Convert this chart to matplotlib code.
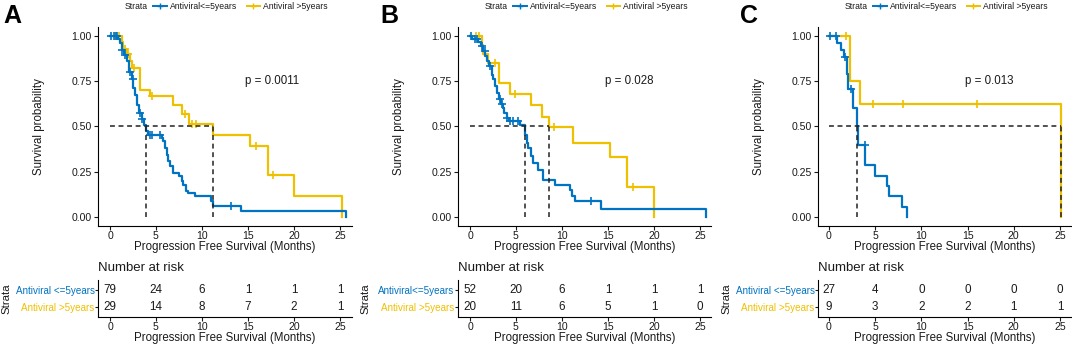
import matplotlib
matplotlib.use('Agg')
import matplotlib.pyplot as plt
from matplotlib.lines import Line2D
import numpy as np

plt.rcParams['font.family'] = ['Liberation Sans', 'DejaVu Sans']

BLUE = '#0073C2'
YELLOW = '#EFC000'
TXT = '#1a1a1a'

# ---------------- data ----------------
panel_labels = ['A', 'B', 'C']
p_values = ['p = 0.0011', 'p = 0.028', 'p = 0.013']
low_names = ['Antiviral <=5years', 'Antiviral<=5years', 'Antiviral <=5years']
high_name = 'Antiviral >5years'
legend_labels = ['Antiviral<=5years', 'Antiviral >5years']
risk_times = [0, 5, 10, 15, 20, 25]
x_ticks = [0, 5, 10, 15, 20, 25]
y_ticks = [0.0, 0.25, 0.5, 0.75, 1.0]

# Panel A
A_low_t = [0, 0.9, 1.1, 1.27, 1.5, 1.8, 2.1, 2.35, 2.54, 2.7, 2.97, 3.19, 3.44, 3.7, 3.91, 4.17,
           5.6, 5.8, 6.0, 6.2, 6.34, 6.5, 6.8, 7.5, 7.8, 7.97, 8.26, 8.5, 9.24, 11.0, 11.23, 14.2, 25.7]
A_low_s = [1.0, 0.985, 0.96, 0.925, 0.897, 0.86, 0.80, 0.76, 0.713, 0.676, 0.62, 0.575, 0.54, 0.51, 0.473, 0.455,
           0.436, 0.418, 0.38, 0.344, 0.307, 0.28, 0.243, 0.225, 0.197, 0.178, 0.145, 0.132, 0.114, 0.086, 0.058, 0.031, 0.0]
A_low_cens = [0.1, 0.4, 0.6, 0.8, 1.3, 1.6, 2.2, 2.45, 3.3, 3.5, 4.3, 4.6, 5.4, 13.2]
A_high_t = [0, 1.27, 1.45, 1.9, 2.17, 2.35, 3.26, 4.35, 6.8, 7.8, 8.6, 11.23, 15.2, 17.2, 20.0, 25.2]
A_high_s = [1.0, 0.965, 0.93, 0.90, 0.862, 0.823, 0.703, 0.667, 0.617, 0.57, 0.515, 0.451, 0.39, 0.234, 0.114, 0.0]
A_high_cens = [0.5, 1.0, 1.6, 2.0, 2.6, 4.6, 8.1, 8.9, 9.3, 15.9, 17.7]
A_risk_low = [79, 24, 6, 1, 1, 1]
A_risk_high = [29, 14, 8, 7, 2, 1]

# Panel B
B_low_t = [0, 0.18, 0.9, 1.16, 1.38, 1.63, 1.85, 2.1, 2.35, 2.54, 2.7, 2.97, 3.19, 3.33, 3.55, 3.7, 3.99, 4.28,
           5.43, 5.97, 6.16, 6.34, 6.6, 6.8, 7.43, 7.97, 9.24, 10.87, 11.05, 11.4, 14.2, 25.6]
B_low_s = [1.0, 0.985, 0.965, 0.943, 0.915, 0.887, 0.86, 0.832, 0.786, 0.76, 0.722, 0.685, 0.654, 0.624, 0.602, 0.574, 0.547, 0.532,
           0.51, 0.455, 0.409, 0.38, 0.335, 0.298, 0.261, 0.206, 0.178, 0.151, 0.114, 0.086, 0.043, 0.0]
B_low_cens = [0.1, 0.5, 0.8, 1.3, 1.6, 2.2, 3.3, 3.5, 4.0, 4.4, 4.7, 5.2, 13.1]
B_high_t = [0, 1.27, 1.45, 2.0, 3.19, 4.35, 6.6, 7.8, 8.6, 11.16, 15.2, 17.1, 20.0]
B_high_s = [1.0, 0.95, 0.90, 0.85, 0.74, 0.68, 0.62, 0.552, 0.495, 0.41, 0.33, 0.164, 0.0]
B_high_cens = [0.6, 1.0, 2.7, 4.9, 9.1, 17.7]
B_risk_low = [52, 20, 6, 1, 1, 1]
B_risk_high = [20, 11, 6, 5, 1, 0]

# Panel C
C_low_t = [0, 0.9, 1.26, 1.6, 2.0, 2.1, 2.6, 3.06, 3.09, 3.12, 3.9, 4.95, 6.24, 6.5, 7.86, 8.48]
C_low_s = [1.0, 0.962, 0.923, 0.885, 0.79, 0.71, 0.60, 0.50, 0.45, 0.40, 0.286, 0.229, 0.171, 0.114, 0.057, 0.0]
C_low_cens = [0.1, 0.8, 1.75, 2.4, 3.85]
C_high_t = [0, 2.27, 3.35, 25.1]
C_high_s = [1.0, 0.75, 0.625, 0.0]
C_high_cens = [1.84, 4.73, 8.05, 15.97]
C_risk_low = [27, 4, 0, 0, 0, 0]
C_risk_high = [9, 3, 2, 2, 1, 1]

panels = [
    (A_low_t, A_low_s, A_low_cens, A_high_t, A_high_s, A_high_cens, A_risk_low, A_risk_high),
    (B_low_t, B_low_s, B_low_cens, B_high_t, B_high_s, B_high_cens, B_risk_low, B_risk_high),
    (C_low_t, C_low_s, C_low_cens, C_high_t, C_high_s, C_high_cens, C_risk_low, C_risk_high),
]

# ---------------- layout (pixels) ----------------
W, H = 1072, 345
fig = plt.figure(figsize=(W / 100, H / 100), dpi=100)

ax_left = [98, 458, 818]
ax_right = [352, 711, 1071]
x_zero = [110, 470, 829]
px_per_month = [9.2, 9.2, 9.24]
label_x = [3, 380, 740]
strata_x = [11, 370, 731]
main_top, main_bot = 27, 226
tab_top, tab_bot = 280, 317


def fr(l, r, t, b):
    return [l / W, 1 - b / H, (r - l) / W, (b - t) / H]


def s_at(ts, ss, x):
    i = np.searchsorted(np.asarray(ts), x, side='right') - 1
    return np.asarray(ss)[i]


def median(ts, ss):
    for t, s in zip(ts, ss):
        if s <= 0.5:
            return t
    return None


tick_fs = 7.6
lab_fs = 8.3
LW = 1.6
DASH = (3.2, 2.4)

for k, (lt, ls, lc, ht, hs, hc, rl, rh) in enumerate(panels):
    l, r = ax_left[k], ax_right[k]
    xmin = (l - x_zero[k]) / px_per_month[k]
    xmax = (r - x_zero[k]) / px_per_month[k]

    ax = fig.add_axes(fr(l, r, main_top, main_bot))
    # median lines
    m1, m2 = median(lt, ls), median(ht, hs)
    mmax = max(m1, m2)
    ax.plot([0, mmax], [0.5, 0.5], color='#222222', lw=1.1, dashes=DASH, zorder=4)
    for m in (m1, m2):
        ax.plot([m, m], [0, 0.5], color='#222222', lw=1.1, dashes=DASH, zorder=4)
    for ts, ss, cs, col in ((ht, hs, hc, YELLOW), (lt, ls, lc, BLUE)):
        ax.step(ts, ss, where='post', color=col, lw=LW, zorder=3)
        ax.plot(cs, s_at(ts, ss, cs), linestyle='none', marker='+', color=col,
                ms=6, mew=1.2, zorder=3)
    ax.set_xlim(xmin, xmax)
    ax.set_ylim(-0.05, 1.05)
    ax.set_xticks(x_ticks)
    ax.set_xticklabels([str(v) for v in x_ticks])
    ax.set_yticks(y_ticks)
    ax.set_yticklabels(['%.2f' % v for v in y_ticks])
    for sp in ('top', 'right'):
        ax.spines[sp].set_visible(False)
    for sp in ('left', 'bottom'):
        ax.spines[sp].set_linewidth(0.8)
        ax.spines[sp].set_color('black')
    ax.tick_params(axis='y', labelsize=tick_fs, colors=TXT, length=3, width=0.8, pad=1.5)
    ax.tick_params(axis='x', labelsize=tick_fs, colors=TXT, length=3, width=0.8, pad=0.3)
    ax.set_xlabel('Progression Free Survival (Months)', fontsize=lab_fs, color=TXT, labelpad=0)
    ax.set_ylabel('Survival probability', fontsize=lab_fs, color=TXT)
    ax.yaxis.set_label_coords(-53 / (r - l), 0.5)
    ax.text(14.7, 0.75, p_values[k], fontsize=8.3, color=TXT, ha='left', va='center')

    # legend
    handles = [Line2D([], [], color=BLUE, lw=1.4, marker='+', ms=5, mew=1.0),
               Line2D([], [], color=YELLOW, lw=1.4, marker='+', ms=5, mew=1.0)]
    fig.text((l + 27) / W, 1 - 6.5 / H, 'Strata', fontsize=6.2, color=TXT, ha='left', va='center')
    fig.legend(handles, legend_labels, ncol=2, loc='center left',
               bbox_to_anchor=((l + 55) / W, 1 - 6.5 / H), frameon=False,
               fontsize=6.2, handlelength=1.6, handletextpad=0.35, columnspacing=1.1,
               borderpad=0, borderaxespad=0, labelcolor=TXT)
    fig.text(label_x[k] / W, 1 - 16 / H, panel_labels[k],
             fontsize=18, fontweight='bold', ha='left', va='center', color='black')

    # risk table
    at = fig.add_axes(fr(l, r, tab_top, tab_bot))
    at.set_xlim(xmin, xmax)
    at.set_ylim(-0.55, 1.55)
    for t, n in zip(risk_times, rl):
        at.text(t, 1, str(n), fontsize=8.4, ha='center', va='center', color=TXT)
    for t, n in zip(risk_times, rh):
        at.text(t, 0, str(n), fontsize=8.4, ha='center', va='center', color=TXT)
    at.set_yticks([1, 0])
    at.set_yticklabels([low_names[k], high_name])
    at.set_xticks(x_ticks)
    at.set_xticklabels([str(v) for v in x_ticks])
    for sp in ('top', 'right'):
        at.spines[sp].set_visible(False)
    for sp in ('left', 'bottom'):
        at.spines[sp].set_linewidth(0.8)
        at.spines[sp].set_color('black')
    at.tick_params(axis='x', labelsize=tick_fs, colors=TXT, length=3, width=0.8, pad=0.3)
    at.tick_params(axis='y', length=2, width=0.8, pad=0.5, color=TXT, labelsize=7.1)
    for lbl, col in zip(at.get_yticklabels(), (BLUE, YELLOW)):
        lbl.set_color(col)
    at.set_xlabel('Progression Free Survival (Months)', fontsize=lab_fs, color=TXT, labelpad=0)
    at.text(0, 1 + 12 / 37, 'Number at risk', transform=at.transAxes, fontsize=9.5,
            ha='left', va='center', color=TXT)
    fig.text(strata_x[k] / W, 1 - 299 / H, 'Strata', rotation=90, fontsize=8.2, color=TXT,
             ha='right', va='center')

fig.savefig('out.png', dpi=100)
